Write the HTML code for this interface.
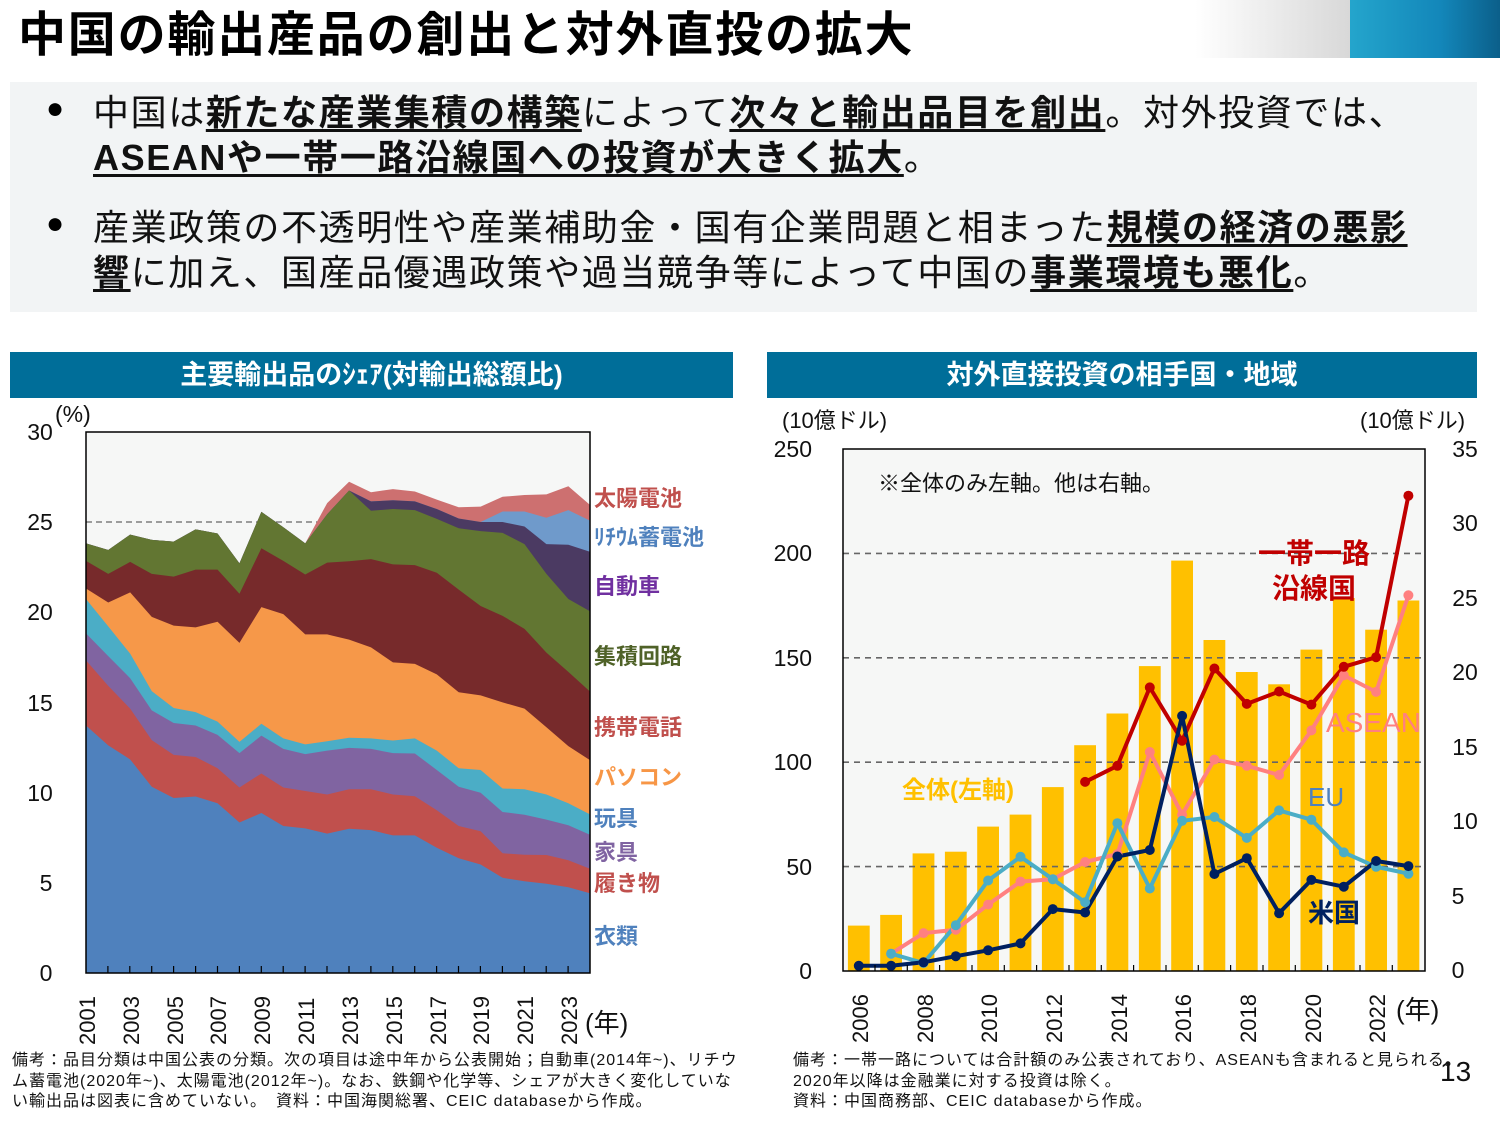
<!DOCTYPE html>
<html><head><meta charset="utf-8"><style>
body{margin:0;width:1500px;height:1125px;background:#fff;position:relative;overflow:hidden;font-family:"Liberation Sans","Noto Sans CJK JP",sans-serif;}
.abs{position:absolute;white-space:nowrap;}
.title{left:18px;top:6px;font-size:48px;font-weight:bold;color:#000;line-height:60px;letter-spacing:1.8px;}
.box{left:10px;top:82px;width:1467px;height:230px;background:#f2f4f5;}
.bl{font-size:36px;color:#111;line-height:45px;letter-spacing:1.6px;}
.bl b{text-decoration:underline;text-decoration-thickness:3px;text-underline-offset:4px;}
.dot{font-size:30px;}
.hdr{background:#006e99;color:#fff;font-size:27px;font-weight:bold;text-align:center;line-height:46px;height:46px;top:352px;}
.note{font-size:16px;color:#111;line-height:20.5px;letter-spacing:1px;}
</style></head><body>
<div class="abs title">中国の輸出産品の創出と対外直投の拡大</div>
<div class="abs" style="left:1195px;top:0;width:155px;height:58px;background:linear-gradient(90deg,#fff,#d8d8d8);"></div>
<div class="abs" style="left:1350px;top:0;width:150px;height:58px;background:linear-gradient(90deg,#24a5cc,#1387ba 60%,#0b5f8a);"></div>
<div class="abs box"></div>
<div class="abs dot" style="left:46px;top:92px;">●</div>
<div class="abs dot" style="left:46px;top:207px;">●</div>
<div class="abs bl" style="left:93px;top:90px;">中国は<b>新たな産業集積の構築</b>によって<b>次々と輸出品目を創出</b>。対外投資では、<br><b>ASEANや一帯一路沿線国への投資が大きく拡大</b>。</div>
<div class="abs bl" style="left:93px;top:205px;">産業政策の不透明性や産業補助金・国有企業問題と相まった<b>規模の経済の悪影</b><br><b>響</b>に加え、国産品優遇政策や過当競争等によって中国の<b>事業環境も悪化</b>。</div>
<div class="abs hdr" style="left:10px;width:723px;">主要輸出品のｼｪｱ(対輸出総額比)</div>
<div class="abs hdr" style="left:767px;width:710px;">対外直接投資の相手国・地域</div>
<svg class="abs" style="left:0;top:0" width="1500" height="1125" font-family="Liberation Sans, Noto Sans CJK JP, sans-serif">
<rect x="86" y="432" width="504" height="541" fill="#f6f7f6"/>
<line x1="86" y1="522" x2="590" y2="522" stroke="#666" stroke-dasharray="6,4" stroke-width="1.2"/>
<g transform="matrix(0.3322 0 0 0.3502 81.0 430.25)">
<polygon fill="#cd7070" points="15,323 82,342 148,298 213,313 279,318 345,283 411,295 477,380 543,233 609,277 675,323 741,208 807,147 873,177 939,168 1005,175 1071,198 1137,220 1203,218 1269,190 1335,185 1401,183 1467,160 1532,213 1532,1550 15,1550"/>
<polygon fill="#6f9acb" points="15,323 82,342 148,298 213,313 279,318 345,283 411,295 477,380 543,233 609,277 675,323 741,240 807,172 873,203 939,200 1005,203 1071,225 1137,252 1203,262 1269,232 1335,232 1401,250 1467,228 1532,258 1532,1550 15,1550"/>
<polygon fill="#4b3a62" points="15,323 82,342 148,298 213,313 279,318 345,283 411,295 477,380 543,233 609,277 675,323 741,240 807,172 873,203 939,200 1005,203 1071,225 1137,252 1203,262 1269,262 1335,275 1401,325 1467,327 1532,347 1532,1550 15,1550"/>
<polygon fill="#627632" points="15,323 82,342 148,298 213,313 279,318 345,283 411,295 477,380 543,233 609,277 675,323 741,240 807,172 873,230 939,225 1005,228 1071,253 1137,280 1203,288 1269,293 1335,325 1401,410 1467,482 1532,517 1532,1550 15,1550"/>
<polygon fill="#772a2b" points="15,373 82,410 148,376 213,410 279,418 345,398 411,398 477,467 543,337 609,373 675,412 741,378 807,374 873,368 939,383 1005,385 1071,407 1137,455 1203,502 1269,530 1335,567 1401,635 1467,690 1532,746 1532,1550 15,1550"/>
<polygon fill="#f69849" points="15,452 82,492 148,463 213,533 279,558 345,563 411,547 477,607 543,505 609,525 675,583 741,583 807,598 873,620 939,663 1005,667 1071,697 1137,748 1203,757 1269,777 1335,795 1401,848 1467,902 1532,942 1532,1550 15,1550"/>
<polygon fill="#4badc6" points="15,482 82,560 148,638 213,745 279,793 345,805 411,832 477,890 543,838 609,880 675,897 741,888 807,878 873,880 939,886 1005,880 1071,915 1137,965 1203,970 1269,1023 1335,1025 1401,1040 1467,1065 1532,1097 1532,1550 15,1550"/>
<polygon fill="#8064a1" points="15,580 82,645 148,708 213,800 279,836 345,843 411,870 477,922 543,872 609,910 675,925 741,915 807,907 873,910 939,922 1005,923 1071,970 1137,1018 1203,1035 1269,1090 1335,1098 1401,1112 1467,1128 1532,1155 1532,1550 15,1550"/>
<polygon fill="#c0504d" points="15,657 82,730 148,795 213,885 279,927 345,933 411,965 477,1020 543,980 609,1020 675,1030 741,1040 807,1025 873,1025 939,1040 1005,1045 1071,1085 1137,1130 1203,1145 1269,1208 1335,1212 1401,1213 1467,1228 1532,1252 1532,1550 15,1550"/>
<polygon fill="#4f81bd" points="15,843 82,900 148,940 213,1018 279,1050 345,1046 411,1065 477,1120 543,1093 609,1130 675,1137 741,1152 807,1138 873,1142 939,1157 1005,1157 1071,1192 1137,1222 1203,1240 1269,1278 1335,1288 1401,1295 1467,1305 1532,1322 1532,1550 15,1550"/>
</g>
<rect x="86" y="432" width="504" height="541" fill="none" stroke="#000" stroke-width="1.5"/>
<g stroke="#000" stroke-width="1.2">
<line x1="107.9" y1="973" x2="107.9" y2="966"/><line x1="129.8" y1="973" x2="129.8" y2="966"/><line x1="151.7" y1="973" x2="151.7" y2="966"/><line x1="173.6" y1="973" x2="173.6" y2="966"/><line x1="195.6" y1="973" x2="195.6" y2="966"/><line x1="217.5" y1="973" x2="217.5" y2="966"/><line x1="239.4" y1="973" x2="239.4" y2="966"/><line x1="261.3" y1="973" x2="261.3" y2="966"/><line x1="283.2" y1="973" x2="283.2" y2="966"/><line x1="305.1" y1="973" x2="305.1" y2="966"/><line x1="327" y1="973" x2="327" y2="966"/><line x1="349" y1="973" x2="349" y2="966"/><line x1="370.9" y1="973" x2="370.9" y2="966"/><line x1="392.8" y1="973" x2="392.8" y2="966"/><line x1="414.7" y1="973" x2="414.7" y2="966"/><line x1="436.6" y1="973" x2="436.6" y2="966"/><line x1="458.5" y1="973" x2="458.5" y2="966"/><line x1="480.4" y1="973" x2="480.4" y2="966"/><line x1="502.4" y1="973" x2="502.4" y2="966"/><line x1="524.3" y1="973" x2="524.3" y2="966"/><line x1="546.2" y1="973" x2="546.2" y2="966"/><line x1="568.1" y1="973" x2="568.1" y2="966"/>
</g>
<g font-size="23" fill="#111" text-anchor="middle">
<text x="40" y="440">30</text><text x="40" y="530">25</text><text x="40" y="620">20</text><text x="40" y="711">15</text><text x="40" y="801">10</text><text x="46" y="891">5</text><text x="46" y="981">0</text>
</g>
<text x="55" y="422" font-size="23" fill="#111">(%)</text>
<g font-size="22" fill="#111">
<text transform="translate(95,1045) rotate(-90)">2001</text><text transform="translate(139,1045) rotate(-90)">2003</text><text transform="translate(183,1045) rotate(-90)">2005</text><text transform="translate(226,1045) rotate(-90)">2007</text><text transform="translate(270,1045) rotate(-90)">2009</text><text transform="translate(314,1045) rotate(-90)">2011</text><text transform="translate(358,1045) rotate(-90)">2013</text><text transform="translate(402,1045) rotate(-90)">2015</text><text transform="translate(446,1045) rotate(-90)">2017</text><text transform="translate(489,1045) rotate(-90)">2019</text><text transform="translate(533,1045) rotate(-90)">2021</text><text transform="translate(577,1045) rotate(-90)">2023</text>
</g>
<text x="585" y="1032" font-size="26" fill="#111">(年)</text>
<g font-size="22" font-weight="bold">
<text x="594" y="506" fill="#c0504d">太陽電池</text>
<text x="594" y="545" fill="#4f81bd">ﾘﾁｳﾑ蓄電池</text>
<text x="594" y="594" fill="#7030a0">自動車</text>
<text x="594" y="664" fill="#4f6228">集積回路</text>
<text x="594" y="735" fill="#c0504d">携帯電話</text>
<text x="594" y="785" fill="#f79646">パソコン</text>
<text x="594" y="826" fill="#4f81bd">玩具</text>
<text x="594" y="860" fill="#8064a2">家具</text>
<text x="594" y="891" fill="#c0504d">履き物</text>
<text x="594" y="944" fill="#4f81bd">衣類</text>
</g>
<rect x="843" y="449" width="582" height="522" fill="#f6f7f6"/>
<g fill="#ffc000">
<rect x="847.9" y="925.6" width="21.8" height="45.4"/><rect x="880.2" y="914.9" width="21.8" height="56.1"/><rect x="912.6" y="853.4" width="21.8" height="117.6"/><rect x="944.9" y="851.7" width="21.8" height="119.3"/><rect x="977.2" y="826.6" width="21.8" height="144.4"/><rect x="1009.6" y="814.6" width="21.8" height="156.4"/><rect x="1041.9" y="787.1" width="21.8" height="183.9"/><rect x="1074.2" y="745.2" width="21.8" height="225.8"/><rect x="1106.5" y="713.5" width="21.8" height="257.5"/><rect x="1138.9" y="666.1" width="21.8" height="304.9"/><rect x="1171.2" y="560.6" width="21.8" height="410.4"/><rect x="1203.5" y="640" width="21.8" height="331"/><rect x="1235.9" y="672" width="21.8" height="299"/><rect x="1268.2" y="684.3" width="21.8" height="286.7"/><rect x="1300.5" y="649.6" width="21.8" height="321.4"/><rect x="1332.9" y="598" width="21.8" height="373"/><rect x="1365.2" y="629.7" width="21.8" height="341.3"/><rect x="1397.5" y="600.5" width="21.8" height="370.5"/>
</g>
<g stroke="#666" stroke-width="1.6" stroke-dasharray="6,5">
<line x1="843" y1="553.4" x2="1425" y2="553.4"/><line x1="843" y1="657.8" x2="1425" y2="657.8"/><line x1="843" y1="762.2" x2="1425" y2="762.2"/><line x1="843" y1="866.6" x2="1425" y2="866.6"/>
</g>
<g fill="none" stroke-width="4" stroke-linejoin="round">
<polyline stroke="#ff8080" points="891.1,953.7 923.5,933.1 955.8,929.7 988.1,904.6 1020.5,881.6 1052.8,879.2 1085.1,862 1117.4,854.1 1149.8,752 1182.1,814.6 1214.4,759.6 1246.8,765.8 1279.1,775 1311.4,730.4 1343.8,675.4 1376.1,691.9 1408.4,595.3"/>
<polyline stroke="#4badc6" points="891.1,953.7 923.5,963 955.8,925.2 988.1,880.5 1020.5,856.8 1052.8,879.2 1085.1,902.2 1117.4,823.2 1149.8,888.5 1182.1,820.8 1214.4,817 1246.8,837.9 1279.1,810.4 1311.4,819.7 1343.8,852.4 1376.1,866.8 1408.4,873.7"/>
<polyline stroke="#c00000" points="1085.1,781.9 1117.4,765.8 1149.8,687.4 1182.1,740.7 1214.4,668.5 1246.8,703.9 1279.1,691.5 1311.4,704.6 1343.8,666.8 1376.1,657.2 1408.4,495.7"/>
<polyline stroke="#002060" points="858.8,965.8 891.1,965.8 923.5,962.3 955.8,956.2 988.1,950.3 1020.5,943.4 1052.8,909.1 1085.1,912.5 1117.4,856.5 1149.8,850 1182.1,715.9 1214.4,874 1246.8,858.2 1279.1,913.2 1311.4,879.9 1343.8,886.7 1376.1,861 1408.4,866.1"/>
</g>
<g fill="#ff8080"><circle cx="891.1" cy="953.7" r="5"/><circle cx="923.5" cy="933.1" r="5"/><circle cx="955.8" cy="929.7" r="5"/><circle cx="988.1" cy="904.6" r="5"/><circle cx="1020.5" cy="881.6" r="5"/><circle cx="1052.8" cy="879.2" r="5"/><circle cx="1085.1" cy="862" r="5"/><circle cx="1117.4" cy="854.1" r="5"/><circle cx="1149.8" cy="752" r="5"/><circle cx="1182.1" cy="814.6" r="5"/><circle cx="1214.4" cy="759.6" r="5"/><circle cx="1246.8" cy="765.8" r="5"/><circle cx="1279.1" cy="775" r="5"/><circle cx="1311.4" cy="730.4" r="5"/><circle cx="1343.8" cy="675.4" r="5"/><circle cx="1376.1" cy="691.9" r="5"/><circle cx="1408.4" cy="595.3" r="5"/></g>
<g fill="#4badc6"><circle cx="891.1" cy="953.7" r="5"/><circle cx="923.5" cy="963" r="5"/><circle cx="955.8" cy="925.2" r="5"/><circle cx="988.1" cy="880.5" r="5"/><circle cx="1020.5" cy="856.8" r="5"/><circle cx="1052.8" cy="879.2" r="5"/><circle cx="1085.1" cy="902.2" r="5"/><circle cx="1117.4" cy="823.2" r="5"/><circle cx="1149.8" cy="888.5" r="5"/><circle cx="1182.1" cy="820.8" r="5"/><circle cx="1214.4" cy="817" r="5"/><circle cx="1246.8" cy="837.9" r="5"/><circle cx="1279.1" cy="810.4" r="5"/><circle cx="1311.4" cy="819.7" r="5"/><circle cx="1343.8" cy="852.4" r="5"/><circle cx="1376.1" cy="866.8" r="5"/><circle cx="1408.4" cy="873.7" r="5"/></g>
<g fill="#c00000"><circle cx="1085.1" cy="781.9" r="5"/><circle cx="1117.4" cy="765.8" r="5"/><circle cx="1149.8" cy="687.4" r="5"/><circle cx="1182.1" cy="740.7" r="5"/><circle cx="1214.4" cy="668.5" r="5"/><circle cx="1246.8" cy="703.9" r="5"/><circle cx="1279.1" cy="691.5" r="5"/><circle cx="1311.4" cy="704.6" r="5"/><circle cx="1343.8" cy="666.8" r="5"/><circle cx="1376.1" cy="657.2" r="5"/><circle cx="1408.4" cy="495.7" r="5"/></g>
<g fill="#002060"><circle cx="858.8" cy="965.8" r="5"/><circle cx="891.1" cy="965.8" r="5"/><circle cx="923.5" cy="962.3" r="5"/><circle cx="955.8" cy="956.2" r="5"/><circle cx="988.1" cy="950.3" r="5"/><circle cx="1020.5" cy="943.4" r="5"/><circle cx="1052.8" cy="909.1" r="5"/><circle cx="1085.1" cy="912.5" r="5"/><circle cx="1117.4" cy="856.5" r="5"/><circle cx="1149.8" cy="850" r="5"/><circle cx="1182.1" cy="715.9" r="5"/><circle cx="1214.4" cy="874" r="5"/><circle cx="1246.8" cy="858.2" r="5"/><circle cx="1279.1" cy="913.2" r="5"/><circle cx="1311.4" cy="879.9" r="5"/><circle cx="1343.8" cy="886.7" r="5"/><circle cx="1376.1" cy="861" r="5"/><circle cx="1408.4" cy="866.1" r="5"/></g>
<rect x="843" y="449" width="582" height="522" fill="none" stroke="#000" stroke-width="1.5"/>
<g stroke="#000" stroke-width="1.2">
<line x1="875" y1="971" x2="875" y2="965"/><line x1="907.3" y1="971" x2="907.3" y2="965"/><line x1="939.6" y1="971" x2="939.6" y2="965"/><line x1="972" y1="971" x2="972" y2="965"/><line x1="1004.3" y1="971" x2="1004.3" y2="965"/><line x1="1036.6" y1="971" x2="1036.6" y2="965"/><line x1="1069" y1="971" x2="1069" y2="965"/><line x1="1101.3" y1="971" x2="1101.3" y2="965"/><line x1="1133.6" y1="971" x2="1133.6" y2="965"/><line x1="1166" y1="971" x2="1166" y2="965"/><line x1="1198.3" y1="971" x2="1198.3" y2="965"/><line x1="1230.6" y1="971" x2="1230.6" y2="965"/><line x1="1263" y1="971" x2="1263" y2="965"/><line x1="1295.3" y1="971" x2="1295.3" y2="965"/><line x1="1327.6" y1="971" x2="1327.6" y2="965"/><line x1="1360" y1="971" x2="1360" y2="965"/><line x1="1392.3" y1="971" x2="1392.3" y2="965"/>
</g>
<g font-size="23" fill="#111" text-anchor="end">
<text x="812" y="457">250</text><text x="812" y="561">200</text><text x="812" y="666">150</text><text x="812" y="770">100</text><text x="812" y="875">50</text><text x="812" y="979">0</text>
</g>
<g font-size="23" fill="#111" text-anchor="middle">
<text x="1465" y="457">35</text><text x="1465" y="531">30</text><text x="1465" y="606">25</text><text x="1465" y="680">20</text><text x="1465" y="755">15</text><text x="1465" y="829">10</text><text x="1458" y="904">5</text><text x="1458" y="978">0</text>
</g>
<text x="782" y="428" font-size="22" fill="#111">(10億ドル)</text>
<text x="1360" y="428" font-size="22" fill="#111">(10億ドル)</text>
<g font-size="22" fill="#111">
<text transform="translate(868,1043) rotate(-90)">2006</text><text transform="translate(933,1043) rotate(-90)">2008</text><text transform="translate(997,1043) rotate(-90)">2010</text><text transform="translate(1062,1043) rotate(-90)">2012</text><text transform="translate(1127,1043) rotate(-90)">2014</text><text transform="translate(1191,1043) rotate(-90)">2016</text><text transform="translate(1256,1043) rotate(-90)">2018</text><text transform="translate(1321,1043) rotate(-90)">2020</text><text transform="translate(1385,1043) rotate(-90)">2022</text>
</g>
<text x="1396" y="1019" font-size="26" fill="#111">(年)</text>
<text x="878" y="491" font-size="22" fill="#111">※全体のみ左軸。他は右軸。</text>
<text x="902" y="798" font-size="24" fill="#ffc000" font-weight="bold">全体(左軸)</text>
<text x="1258" y="563" font-size="28" fill="#c00000" font-weight="bold">一帯一路</text>
<text x="1272" y="598" font-size="28" fill="#c00000" font-weight="bold">沿線国</text>
<text x="1326" y="732" font-size="28" fill="#ff8080">ASEAN</text>
<text x="1308" y="806" font-size="26" fill="#4f81bd">EU</text>
<text x="1308" y="922" font-size="26" fill="#002060" font-weight="bold">米国</text>
</svg>
<div class="abs note" style="left:12px;top:1051px;">備考：品目分類は中国公表の分類。次の項目は途中年から公表開始；自動車(2014年~)、リチウ<br>ム蓄電池(2020年~)、太陽電池(2012年~)。なお、鉄鋼や化学等、シェアが大きく変化していな<br>い輸出品は図表に含めていない。　資料：中国海関総署、CEIC databaseから作成。</div>
<div class="abs note" style="left:793px;top:1051px;">備考：一帯一路については合計額のみ公表されており、ASEANも含まれると見られる。<br>2020年以降は金融業に対する投資は除く。<br>資料：中国商務部、CEIC databaseから作成。</div>
<div class="abs" style="left:1440px;top:1056px;font-size:28px;color:#111;">13</div>
</body></html>
